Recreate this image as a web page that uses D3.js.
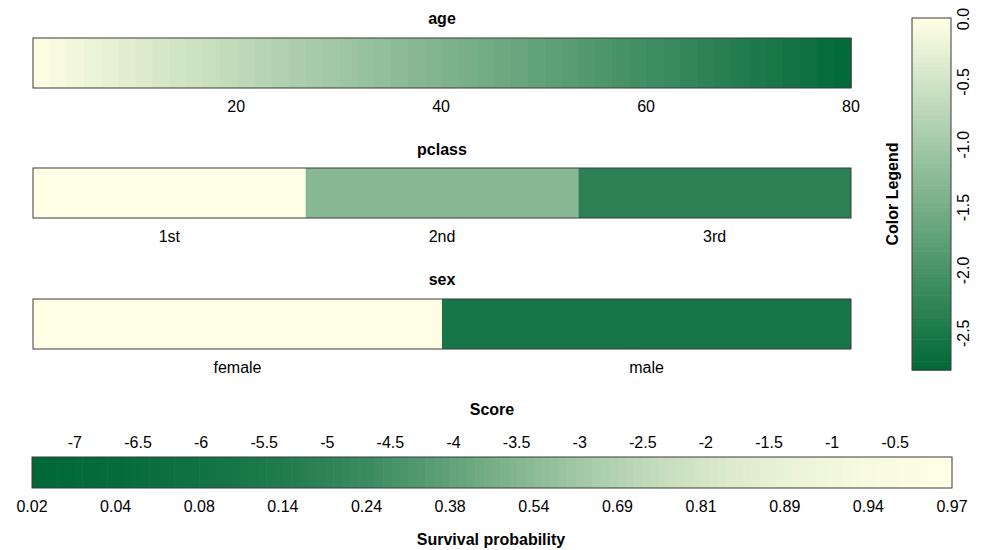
<!DOCTYPE html>
<html>
<head>
<meta charset="utf-8">
<script src="https://cdn.jsdelivr.net/npm/d3@7"></script>
<style>
  html, body { margin: 0; padding: 0; background: #ffffff; }
  svg { display: block; font-family: "Liberation Sans", Arial, sans-serif; }
  .title { font-weight: bold; font-size: 16px; fill: #000; }
  .lab { font-size: 16px; fill: #000; }
</style>
</head>
<body>
<svg id="chart" width="984" height="550"></svg>
<script>
// Per-variable contributions to the linear predictor (log-odds)
const ageExtent = [0.17, 80];
const ageScoreExtent = [0, -2.8];
const ageTicks = [20, 40, 60, 80];

const pclassLevels = ["1st", "2nd", "3rd"];
const pclassScores = [0, -1.3, -2.33];

const sexLevels = ["female", "male"];
const sexScores = [0, -2.55];

// Total score axis and the matching survival probabilities
const scoreExtent = [-7.34, -0.05];
const scoreTicks = [-7, -6.5, -6, -5.5, -5, -4.5, -4, -3.5, -3, -2.5, -2, -1.5, -1, -0.5];
const survivalProbs = [0.02, 0.04, 0.08, 0.14, 0.24, 0.38, 0.54, 0.69, 0.81, 0.89, 0.94, 0.97];

// Colour legend
const legendExtent = [-2.8, 0];
const legendTicks = [0, -0.5, -1, -1.5, -2, -2.5];

const DARK = "#006837", LIGHT = "#ffffe5";

const svg = d3.select("#chart");
const color = d3.scaleLinear().domain(legendExtent).range([DARK, LIGHT]).interpolate(d3.interpolateRgb);

const barX0 = 33, barX1 = 851;
const outline = "#3a3a3a";

// ---- age: continuous strip ----
(function () {
  const top = 38, h = 50;
  const x = d3.scaleLinear().domain(ageExtent).range([barX0, barX1]);
  const ageToScore = d3.scaleLinear().domain(ageExtent).range(ageScoreExtent);
  const steps = 48;
  const edges = d3.range(steps + 1).map(i => ageExtent[0] + (ageExtent[1] - ageExtent[0]) * i / steps);
  const g = svg.append("g");
  g.selectAll("rect.step").data(d3.pairs(edges)).join("rect")
    .attr("x", d => x(d[0]))
    .attr("y", top)
    .attr("width", d => x(d[1]) - x(d[0]) + 0.6)
    .attr("height", h)
    .attr("fill", d => color(ageToScore((d[0] + d[1]) / 2)));
  g.append("rect").attr("x", barX0).attr("y", top).attr("width", barX1 - barX0).attr("height", h)
    .attr("fill", "none").attr("stroke", outline).attr("stroke-width", 1);
  g.append("text").attr("class", "title").attr("x", (barX0 + barX1) / 2).attr("y", 24)
    .attr("text-anchor", "middle").text("age");
  g.selectAll("text.lab").data(ageTicks).join("text").attr("class", "lab")
    .attr("x", d => x(d)).attr("y", 112).attr("text-anchor", "middle").text(d => d);
})();

// ---- categorical strips ----
function categoricalStrip(name, levels, scores, top, titleY, labelY) {
  const h = 50;
  const x = d3.scaleBand().domain(levels).range([barX0, barX1]);
  const g = svg.append("g");
  g.selectAll("rect.cat").data(levels).join("rect")
    .attr("x", d => x(d)).attr("y", top)
    .attr("width", x.bandwidth()).attr("height", h)
    .attr("fill", (d, i) => color(scores[i]));
  g.append("rect").attr("x", barX0).attr("y", top).attr("width", barX1 - barX0).attr("height", h)
    .attr("fill", "none").attr("stroke", outline).attr("stroke-width", 1);
  g.append("text").attr("class", "title").attr("x", (barX0 + barX1) / 2).attr("y", titleY)
    .attr("text-anchor", "middle").text(name);
  g.selectAll("text.lab").data(levels).join("text").attr("class", "lab")
    .attr("x", d => x(d) + x.bandwidth() / 2).attr("y", labelY)
    .attr("text-anchor", "middle").text(d => d);
}
categoricalStrip("pclass", pclassLevels, pclassScores, 168, 155, 242);
categoricalStrip("sex", sexLevels, sexScores, 299, 285, 373);

// ---- score strip with survival probability ----
(function () {
  const x0 = 32, x1 = 952, top = 457, h = 31;
  const x = d3.scaleLinear().domain(scoreExtent).range([x0, x1]);
  const probPos = d3.scalePoint().domain(d3.range(survivalProbs.length)).range([x0, x1]);
  const posToProb = d3.scaleLinear().domain(survivalProbs.map((p, i) => probPos(i))).range(survivalProbs);
  const probColor = d3.scaleLinear().domain([survivalProbs[0], survivalProbs[survivalProbs.length - 1]])
    .range([DARK, LIGHT]).interpolate(d3.interpolateRgb);
  const steps = 110;
  const edges = d3.range(steps + 1).map(i => x0 + (x1 - x0) * i / steps);
  const g = svg.append("g");
  g.selectAll("rect.step").data(d3.pairs(edges)).join("rect")
    .attr("x", d => d[0]).attr("y", top)
    .attr("width", d => d[1] - d[0] + 0.6).attr("height", h)
    .attr("fill", d => probColor(posToProb((d[0] + d[1]) / 2)));
  g.append("rect").attr("x", x0).attr("y", top).attr("width", x1 - x0).attr("height", h)
    .attr("fill", "none").attr("stroke", outline).attr("stroke-width", 1);
  g.append("text").attr("class", "title").attr("x", 492).attr("y", 415)
    .attr("text-anchor", "middle").text("Score");
  g.selectAll("text.sc").data(scoreTicks).join("text").attr("class", "lab sc")
    .attr("x", d => x(d)).attr("y", 448).attr("text-anchor", "middle").text(d => String(d));
  g.selectAll("text.pr").data(survivalProbs).join("text").attr("class", "lab pr")
    .attr("x", (d, i) => probPos(i)).attr("y", 512).attr("text-anchor", "middle").text(d => d.toFixed(2));
  g.append("text").attr("class", "title").attr("x", 491).attr("y", 545)
    .attr("text-anchor", "middle").text("Survival probability");
})();

// ---- colour legend ----
(function () {
  const lx = 912, lw = 39, y0 = 18, y1 = 370;
  const y = d3.scaleLinear().domain(legendExtent).range([y1, y0]);
  const steps = 80;
  const edges = d3.range(steps + 1).map(i => legendExtent[0] + (legendExtent[1] - legendExtent[0]) * i / steps);
  const g = svg.append("g");
  g.selectAll("rect.step").data(d3.pairs(edges)).join("rect")
    .attr("x", lx).attr("y", d => y(d[1]))
    .attr("width", lw).attr("height", d => y(d[0]) - y(d[1]) + 0.6)
    .attr("fill", d => color((d[0] + d[1]) / 2));
  g.append("rect").attr("x", lx).attr("y", y0).attr("width", lw).attr("height", y1 - y0)
    .attr("fill", "none").attr("stroke", outline).attr("stroke-width", 1);
  g.selectAll("text.lab").data(legendTicks).join("text").attr("class", "lab")
    .attr("transform", d => `translate(969,${y(d) + 1}) rotate(-90)`)
    .attr("text-anchor", "middle").text(d => d.toFixed(1));
  g.append("text").attr("class", "title")
    .attr("transform", `translate(898,194) rotate(-90)`)
    .attr("text-anchor", "middle").text("Color Legend");
})();
</script>
</body>
</html>
